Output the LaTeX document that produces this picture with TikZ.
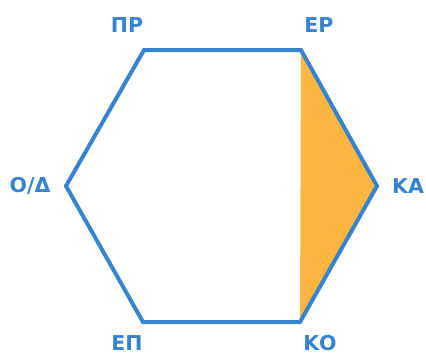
\documentclass[tikz,border=0pt]{standalone}
\usepackage{fontspec}
\setmainfont{DejaVu Sans}
\definecolor{hexblue}{HTML}{3784CE}
\definecolor{hexorange}{HTML}{FBB540}
\begin{document}
\begin{tikzpicture}[x=1pt,y=-1pt,
  lbl/.style={text=hexblue,font=\fontsize{20.5}{22}\selectfont\bfseries,inner sep=0pt},
  edge/.style={draw=hexblue,line width=4pt,line join=miter}]
\useasboundingbox (0,0) rectangle (426,354);
\coordinate (PR) at (144,50);
\coordinate (ER) at (301,50);
\coordinate (KA) at (377,186);
\coordinate (KO) at (300,322);
\coordinate (EP) at (143,322);
\coordinate (OD) at (66,186);
\fill[hexorange] (ER) -- (KA) -- (KO) -- cycle;
\draw[edge] (PR) -- (ER) -- (KA) -- (KO) -- (EP) -- (OD) -- cycle;
\node[lbl] (tPR) at (127,25) {ΠΡ};
\node[lbl] (tER) at (319,25) {ΕΡ};
\node[lbl] (tOD) at (30,186) {Ο/Δ};
\node[lbl] (tKA) at (408,186) {ΚΑ};
\node[lbl] (tEP) at (127,343) {ΕΠ};
\node[lbl] (tKO) at (320,343) {ΚΟ};
\end{tikzpicture}
\end{document}
